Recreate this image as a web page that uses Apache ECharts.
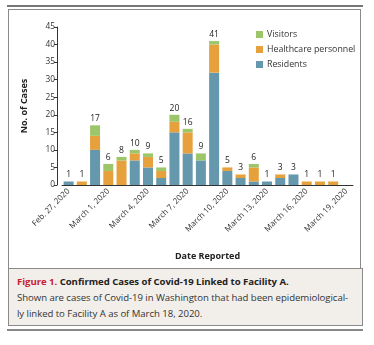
<!DOCTYPE html>
<html>
<head>
<meta charset="utf-8">
<script src="https://cdn.jsdelivr.net/npm/echarts@6/dist/echarts.min.js"></script>
<style>
  html, body { margin: 0; padding: 0; width: 374px; height: 345px; background: #fff; overflow: hidden; }
  #topline { position: absolute; left: 7px; top: 5px; width: 356px; height: 2px; background: #777; }
  #frame { position: absolute; left: 8px; top: 9px; width: 353px; height: 316px; border: 1.5px solid #8a8a8a; box-sizing: border-box; }
  #caption { position: absolute; left: 8px; top: 268px; width: 355px; height: 58px; background: #f2efeb; border: 1.5px solid #8a8a8a; box-sizing: border-box;
    font-family: "Open Sans", "Noto Sans", sans-serif; font-size: 9.6px; color: #333; padding: 5px 0 0 8px; line-height: 16px; letter-spacing: -0.05px; }
  #caption .fig { color: #c8202f; font-weight: bold; }
  #caption .ttl { font-weight: bold; color: #222; }
  #botline { position: absolute; left: 7px; top: 329px; width: 356px; height: 2px; background: #888; }
  #chart { position: absolute; left: 0; top: 0; width: 374px; height: 268px; }
</style>
</head>
<body>
<div id="topline"></div>
<div id="frame"></div>
<div id="caption">
  <span class="fig">Figure 1.</span> <span class="ttl">Confirmed Cases of Covid-19 Linked to Facility A.</span><br>
  Shown are cases of Covid-19 in Washington that had been epidemiological-<br>
  ly linked to Facility A as of March 18, 2020.
</div>
<div id="botline"></div>
<div id="chart"></div>
<script>
const dates = ["Feb. 27, 2020","Feb. 28, 2020","Feb. 29, 2020","March 1, 2020","March 2, 2020","March 3, 2020","March 4, 2020","March 5, 2020","March 6, 2020","March 7, 2020","March 8, 2020","March 9, 2020","March 10, 2020","March 11, 2020","March 12, 2020","March 13, 2020","March 14, 2020","March 15, 2020","March 16, 2020","March 17, 2020","March 18, 2020","March 19, 2020"];
const residents  = [1, 0, 10, 0, 0, 7, 5, 2, 15, 9, 7, 32, 4, 2, 1, 1, 2, 3, 0, 0, 0, 0];
const healthcare = [0, 1, 4, 4, 7, 2, 3, 2, 3, 6, 0, 8, 1, 1, 4, 0, 1, 0, 1, 1, 1, 0];
const visitors   = [0, 0, 3, 2, 1, 1, 1, 1, 2, 1, 2, 1, 0, 0, 1, 0, 0, 0, 0, 0, 0, 0];
const totals = dates.map((d, i) => residents[i] + healthcare[i] + visitors[i]);
const yTicks = [0, 5, 10, 15, 20, 25, 30, 35, 40, 45];

const chart = echarts.init(document.getElementById('chart'));
const font = '"Open Sans", "Noto Sans", sans-serif';
const common = { type: 'bar', stack: 'total', barWidth: 10 };
chart.setOption({
  animation: false,
  textStyle: { fontFamily: font },
  grid: { left: 62, right: 21, top: 27, bottom: 83 },
  legend: {
    orient: 'vertical', left: 256, top: 30, padding: 0, itemWidth: 7, itemHeight: 7, itemGap: 6,
    icon: 'rect',
    textStyle: { fontSize: 8.8, color: '#333', fontFamily: font, padding: [0, 0, 0, -1] },
    data: ['Visitors', 'Healthcare personnel', 'Residents']
  },
  xAxis: {
    type: 'category', data: dates,
    name: 'Date Reported', nameLocation: 'middle', nameGap: 67,
    nameTextStyle: { fontWeight: 'bold', fontSize: 9, color: '#222', fontFamily: font },
    axisLine: { lineStyle: { color: '#333', width: 1 } },
    axisTick: { alignWithLabel: true, interval: 2, length: 4, lineStyle: { color: '#333' } },
    axisLabel: { interval: 2, rotate: 45, fontSize: 8, color: '#333', margin: 5 }
  },
  yAxis: {
    type: 'value', min: yTicks[0], max: yTicks[yTicks.length - 1], interval: 5, offset: 5,
    name: 'No. of Cases', nameLocation: 'middle', nameGap: 28,
    nameTextStyle: { fontWeight: 'bold', fontSize: 9, color: '#222', fontFamily: font },
    axisLine: { show: true, lineStyle: { color: '#333', width: 1 } },
    axisTick: { show: true, length: 3, lineStyle: { color: '#333' } },
    axisLabel: { fontSize: 8.3, color: '#333', margin: 2 },
    splitLine: { show: false }
  },
  series: [
    Object.assign({ name: 'Residents', data: residents, itemStyle: { color: '#6698ad' } }, common),
    Object.assign({ name: 'Healthcare personnel', data: healthcare, itemStyle: { color: '#e6a03c' } }, common),
    Object.assign({ name: 'Visitors', data: visitors, itemStyle: { color: '#9dc66b' },
      label: { show: true, position: 'top', distance: 2, fontSize: 8.5, color: '#222',
        formatter: p => totals[p.dataIndex] > 0 ? String(totals[p.dataIndex]) : '' } }, common)
  ]
});
</script>
</body>
</html>
